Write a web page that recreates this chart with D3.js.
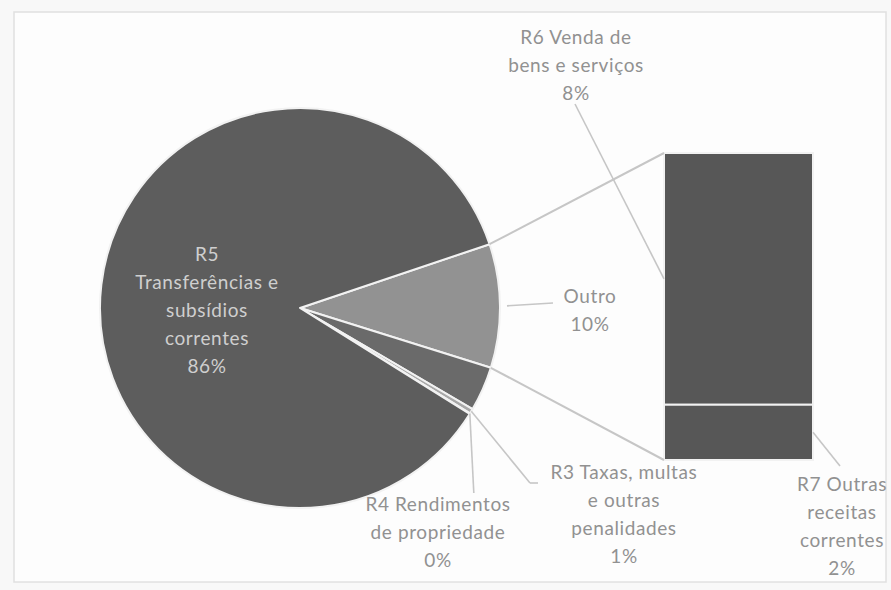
<!DOCTYPE html>
<html><head><meta charset="utf-8">
<script src="https://cdn.jsdelivr.net/npm/d3@7"></script>
<style>html,body{margin:0;padding:0;background:#fff;}svg{display:block;}</style>
</head><body>
<svg id="chart" width="891" height="590"></svg>
<script>
// ---- data ----
const pieCategories = ["Outro", "(sem rótulo)", "R3 Taxas, multas e outras penalidades", "R4 Rendimentos de propriedade", "R5 Transferências e subsídios correntes"];
const pieValues = [10, 3.6, 0.4, 0.05, 85.95];
const pieLabels = ["10%", "", "1%", "0%", "86%"];
const barCategories = ["R6 Venda de bens e serviços", "R7 Outras receitas correntes"];
const barValues = [8.2, 1.8];
const barLabels = ["8%", "2%"];

// label line splits (text as in the picture)
const pieLabelLines = [["Outro"], [], ["R3 Taxas, multas", "e outras", "penalidades"], ["R4 Rendimentos", "de propriedade"], ["R5", "Transferências e", "subsídios", "correntes"]];
const barLabelLines = [["R6 Venda de", "bens e serviços"], ["R7 Outras", "receitas", "correntes"]];

const svg = d3.select("#chart");
const W = 891, H = 590;
svg.append("rect").attr("width", W).attr("height", H).attr("fill", "#f8f8f8");
svg.append("rect").attr("x", 14).attr("y", 12).attr("width", 872).attr("height", 570)
  .attr("fill", "#fdfdfd").attr("stroke", "#e0e0e0").attr("stroke-width", 1.5);

const cx = 300, cy = 308, R = 200;
const deg = Math.PI / 180;
const start = 71.4 * deg;
const pieFill = ["#929292", "#6a6a6a", "#a8a8a8", "#a8a8a8", "#5d5d5d"];

const pie = d3.pie().sort(null).value(d => d.v).startAngle(start).endAngle(start + 2 * Math.PI);
const pdata = pie(pieValues.map((v, i) => ({v, i})));
const arc = d3.arc().innerRadius(0).outerRadius(R);
const g = svg.append("g").attr("transform", `translate(${cx},${cy})`);
g.selectAll("path").data(pdata).join("path")
  .attr("d", arc).attr("fill", d => pieFill[d.data.i])
  .attr("stroke", "#f2f2f2").attr("stroke-width", 2).attr("stroke-linejoin", "round");

const pt = (a, r) => [cx + r * Math.sin(a), cy - r * Math.cos(a)];

// ---- bar (secondary) ----
const barX0 = 664, barX1 = 813;
const total = d3.sum(barValues);
const y = d3.scaleLinear().domain([0, total]).range([153, 460]);
let acc = 0;
const bdata = barValues.map((v, i) => { const o = {i, y0: acc, y1: acc + v}; acc += v; return o; });
svg.selectAll("rect.bar").data(bdata).join("rect").attr("class", "bar")
  .attr("x", barX0).attr("width", barX1 - barX0)
  .attr("y", d => y(d.y0)).attr("height", d => y(d.y1) - y(d.y0))
  .attr("fill", "#575757").attr("stroke", "#f2f2f2").attr("stroke-width", 2);

const lineCol = "#c6c6c6";
function line(p, q, w) {
  svg.append("line").attr("x1", p[0]).attr("y1", p[1]).attr("x2", q[0]).attr("y2", q[1])
    .attr("stroke", lineCol).attr("stroke-width", w || 1.6);
}
// connector lines from "Outro" slice to bar
const outro = pdata[0];
line(pt(outro.startAngle, R), [barX0, y(0)], 2);
line(pt(outro.endAngle, R), [barX0, y(total)], 2);

// ---- labels ----
const font = "Lato, 'Open Sans', sans-serif";
const FS = 19, LH = 28;
function label(lines, x, yFirst, color) {
  const t = svg.append("text").attr("text-anchor", "middle").attr("font-family", font)
    .attr("font-size", FS).attr("letter-spacing", 0.6).attr("fill", color || "#919191");
  lines.forEach((s, k) => t.append("tspan").attr("x", x).attr("y", yFirst + k * LH + 6).text(s));
}

// R5 inside pie
label([...pieLabelLines[4], pieLabels[4]], 207, 255, "#cfcfcf");

// Outro
const om = (outro.startAngle + outro.endAngle) / 2;
line(pt(om, R + 7), [553, 303]);
label([...pieLabelLines[0], pieLabels[0]], 590, 297);

// R3
const r3 = pdata[2];
const r3a = (r3.startAngle + r3.endAngle) / 2;
line(pt(r3a, R), [530, 483]);
line([530, 483], [538, 483]);
label([...pieLabelLines[2], pieLabels[2]], 624, 473);

// R4
const r4 = pdata[3];
const r4p = pt((r4.startAngle + r4.endAngle) / 2, R);
line(r4p, [r4p[0] + 4, 493]);
label([...pieLabelLines[3], pieLabels[3]], 438, 505);

// R6 leader to middle of its bar segment
line([575, 104], [barX0, y((bdata[0].y0 + bdata[0].y1) / 2)]);
label([...barLabelLines[0], barLabels[0]], 576, 38);

// R7 leader
line([barX1, y((bdata[1].y0 + bdata[1].y1) / 2)], [840, 466]);
label([...barLabelLines[1], barLabels[1]], 842, 485);
</script>
</body></html>
